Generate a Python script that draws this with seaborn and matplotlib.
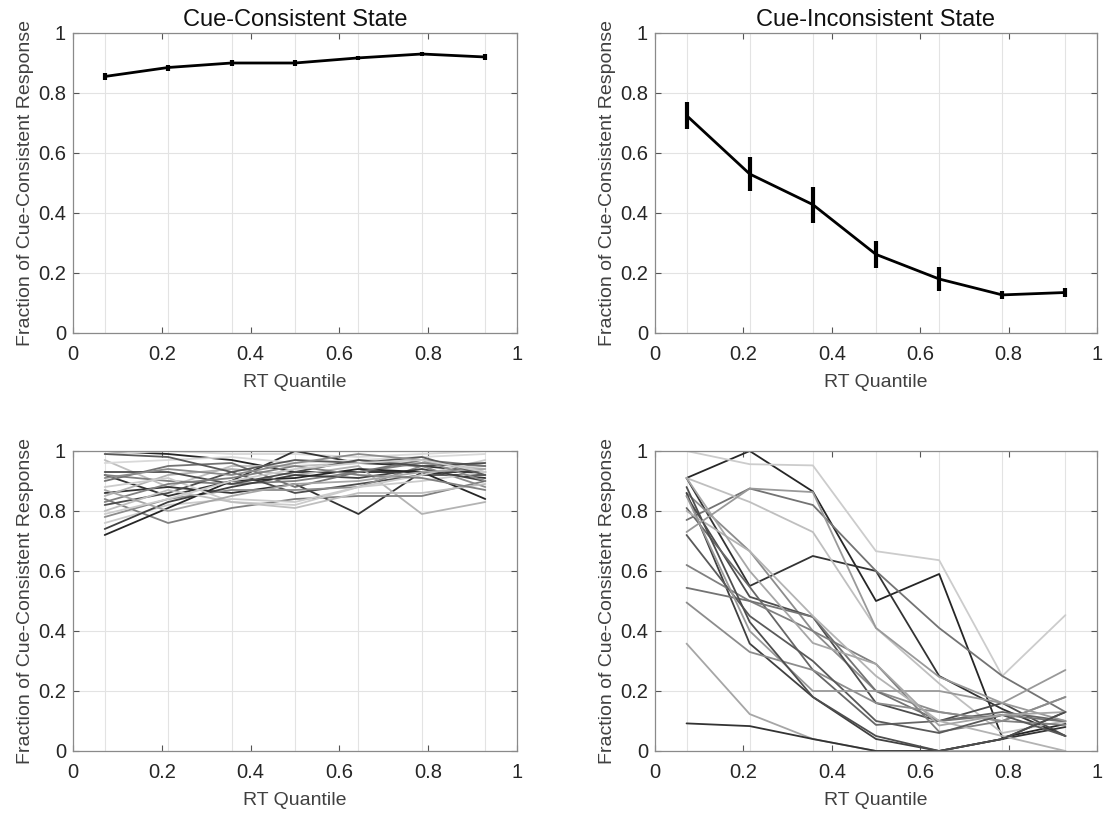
import numpy as np
import pandas as pd
import matplotlib
matplotlib.use("Agg")
import matplotlib.pyplot as plt
import seaborn as sns

# ---------------- data ----------------
rt_quantile = [0.0714, 0.2143, 0.3571, 0.5, 0.6429, 0.7857, 0.9286]

consistent_mean = [0.855, 0.885, 0.900, 0.900, 0.917, 0.930, 0.920]
consistent_err = [0.013, 0.010, 0.009, 0.009, 0.008, 0.007, 0.009]

inconsistent_mean = [0.725, 0.530, 0.428, 0.262, 0.180, 0.127, 0.135]
inconsistent_err = [0.045, 0.055, 0.060, 0.045, 0.040, 0.012, 0.015]

# individual subjects, cue-consistent state
consistent_subjects = [
    [1.00, 0.99, 0.97, 0.93, 0.93, 0.93, 0.93],
    [0.99, 1.00, 0.99, 0.99, 0.98, 0.99, 1.00],
    [0.97, 0.88, 0.95, 0.95, 0.96, 0.96, 0.94],
    [0.92, 0.85, 0.90, 1.00, 0.96, 0.95, 0.93],
    [0.92, 0.90, 0.89, 0.90, 0.93, 0.96, 0.95],
    [0.86, 0.88, 0.86, 0.89, 0.79, 0.93, 0.91],
    [0.85, 0.92, 0.94, 0.92, 0.95, 0.79, 0.83],
    [0.84, 0.76, 0.81, 0.84, 0.85, 0.85, 0.90],
    [0.82, 0.86, 0.93, 0.86, 0.89, 0.92, 0.92],
    [0.78, 0.84, 0.87, 0.87, 0.88, 0.95, 0.88],
    [0.76, 0.82, 0.84, 0.83, 0.88, 0.90, 0.93],
    [0.74, 0.83, 0.88, 0.92, 0.91, 0.94, 0.90],
    [0.72, 0.81, 0.90, 0.91, 0.94, 0.93, 0.84],
    [0.88, 0.91, 0.83, 0.82, 0.88, 0.92, 0.97],
    [0.90, 0.95, 0.96, 0.88, 0.93, 0.97, 0.95],
    [0.96, 0.97, 0.98, 0.96, 0.97, 0.98, 0.99],
    [0.80, 0.87, 0.83, 0.81, 0.86, 0.86, 0.89],
    [0.93, 0.93, 0.89, 0.93, 0.97, 0.95, 0.96],
    [0.83, 0.89, 0.91, 0.95, 0.92, 0.91, 0.87],
    [0.87, 0.80, 0.85, 0.89, 0.90, 0.93, 0.94],
    [0.99, 0.98, 0.93, 0.97, 0.96, 0.98, 0.92],
    [0.91, 0.94, 0.92, 0.96, 0.99, 0.97, 0.90],
    [0.79, 0.84, 0.90, 0.94, 0.96, 0.97, 0.93],
]
consistent_grays = [0.15, 0.85, 0.75, 0.2, 0.5, 0.2, 0.7, 0.5, 0.3, 0.55,
                    0.8, 0.25, 0.15, 0.8, 0.45, 0.85, 0.75, 0.3, 0.5, 0.65,
                    0.35, 0.55, 0.8]

# individual subjects, cue-inconsistent state
inconsistent_subjects = [
    [0.91, 1.00, 0.865, 0.50, 0.59, 0.045, 0.09],
    [0.91, 0.55, 0.65, 0.60, 0.25, 0.14, 0.05],
    [1.00, 0.956, 0.952, 0.666, 0.636, 0.25, 0.453],
    [0.77, 0.875, 0.82, 0.60, 0.41, 0.25, 0.13],
    [0.91, 0.83, 0.73, 0.41, 0.225, 0.06, 0.10],
    [0.86, 0.666, 0.40, 0.20, 0.13, 0.10, 0.18],
    [0.85, 0.514, 0.447, 0.16, 0.10, 0.16, 0.05],
    [0.81, 0.547, 0.27, 0.087, 0.10, 0.13, 0.10],
    [0.86, 0.358, 0.18, 0.04, 0.0, 0.04, 0.13],
    [0.62, 0.50, 0.40, 0.29, 0.064, 0.10, 0.087],
    [0.544, 0.50, 0.447, 0.20, 0.10, 0.12, 0.098],
    [0.495, 0.33, 0.27, 0.16, 0.13, 0.10, 0.18],
    [0.358, 0.123, 0.04, 0.0, 0.0, 0.0, 0.0],
    [0.092, 0.083, 0.04, 0.0, 0.0, 0.04, 0.08],
    [0.80, 0.666, 0.45, 0.25, 0.10, 0.05, 0.0],
    [0.72, 0.45, 0.30, 0.10, 0.06, 0.12, 0.05],
    [0.85, 0.40, 0.20, 0.20, 0.20, 0.16, 0.10],
    [0.91, 0.60, 0.36, 0.29, 0.085, 0.12, 0.13],
    [0.88, 0.43, 0.18, 0.05, 0.0, 0.04, 0.13],
    [0.73, 0.875, 0.863, 0.41, 0.247, 0.16, 0.27],
]
inconsistent_grays = [0.15, 0.2, 0.8, 0.45, 0.75, 0.55, 0.3, 0.4, 0.25, 0.5,
                      0.45, 0.55, 0.65, 0.2, 0.7, 0.35, 0.6, 0.65, 0.3, 0.6]

titles = ["Cue-Consistent State", "Cue-Inconsistent State"]
y_label = "Fraction of Cue-Consistent Response"
x_label = "RT Quantile"
ticks = [0, 0.2, 0.4, 0.6, 0.8, 1]
tick_labels = ["0", "0.2", "0.4", "0.6", "0.8", "1"]

# ---------------- style ----------------
sns.set_theme(style="white")
plt.rcParams["font.family"] = ["Liberation Sans", "DejaVu Sans"]

W, H = 1105, 815
fig = plt.figure(figsize=(W / 100, H / 100), dpi=100)

def box(l, r, t, b):
    return [l / W, (H - b) / H, (r - l) / W, (b - t) / H]

axes = [
    fig.add_axes(box(73, 517, 33, 333)),
    fig.add_axes(box(655, 1097, 33, 333)),
    fig.add_axes(box(73, 517, 451, 751)),
    fig.add_axes(box(655, 1097, 451, 751)),
]

def style_axis(ax):
    ax.set_xlim(0, 1)
    ax.set_ylim(0, 1)
    ax.set_xticks(ticks)
    ax.set_xticklabels(tick_labels)
    ax.set_yticks(ticks)
    ax.set_yticklabels(tick_labels)
    ax.set_xticks(rt_quantile, minor=True)
    ax.tick_params(which="major", direction="in", length=4, width=0.8,
                   color="#555555", labelsize=14.5, labelcolor="#262626",
                   top=True, right=True, bottom=True, left=True)
    ax.tick_params(axis="x", which="major", pad=9)
    ax.tick_params(axis="y", which="major", pad=5)
    ax.tick_params(which="minor", length=0)
    ax.grid(False)
    ax.grid(True, which="minor", axis="x", color="#e3e3e3", lw=0.8)
    ax.grid(True, which="major", axis="y", color="#e3e3e3", lw=0.8)
    ax.set_axisbelow(True)
    for s in ax.spines.values():
        s.set_color("#8a8a8a")
        s.set_linewidth(0.9)
    ax.set_xlabel(x_label, fontsize=14, color="#404040", labelpad=7)
    ax.set_ylabel(y_label, fontsize=14, color="#404040", labelpad=3)

# top panels: mean with error bars
for ax, m, e, t in [(axes[0], consistent_mean, consistent_err, titles[0]),
                    (axes[1], inconsistent_mean, inconsistent_err, titles[1])]:
    df = pd.DataFrame({"x": rt_quantile, "y": m})
    sns.lineplot(data=df, x="x", y="y", ax=ax, color="black", lw=2)
    ax.errorbar(rt_quantile, m, yerr=e, fmt="none", ecolor="black",
                elinewidth=3, capsize=0)
    style_axis(ax)
    ax.set_title(t, fontsize=17, color="#111111", pad=5)

# bottom panels: individual subjects
for ax, subj, grays in [(axes[2], consistent_subjects, consistent_grays),
                        (axes[3], inconsistent_subjects, inconsistent_grays)]:
    rows = []
    for i, vals in enumerate(subj):
        for x, v in zip(rt_quantile, vals):
            rows.append({"subject": f"s{i}", "x": x, "y": v})
    df = pd.DataFrame(rows)
    pal = {f"s{i}": (g, g, g) for i, g in enumerate(grays)}
    sns.lineplot(data=df, x="x", y="y", hue="subject", palette=pal,
                 estimator=None, ax=ax, lw=1.3, legend=False)
    style_axis(ax)

fig.savefig("out.png", dpi=100)
